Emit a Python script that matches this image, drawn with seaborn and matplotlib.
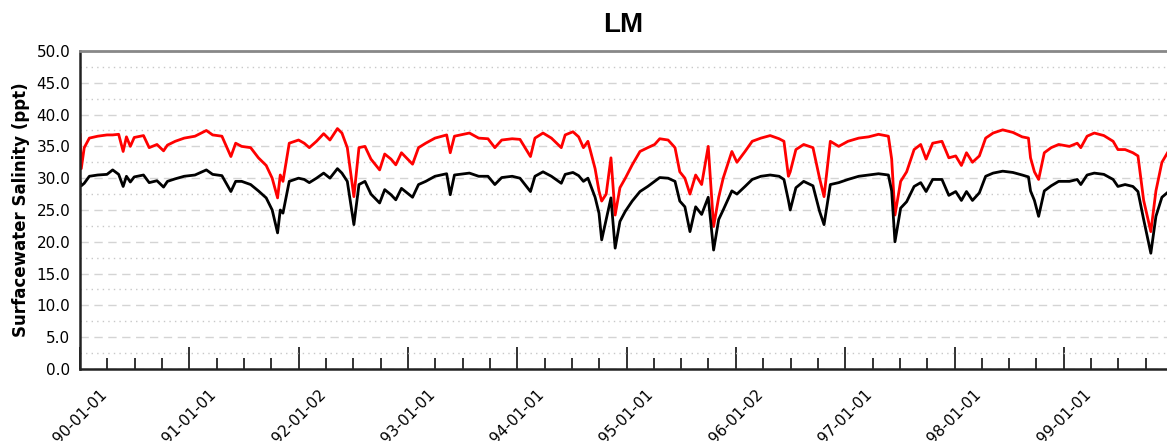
import matplotlib
matplotlib.use("Agg")
import matplotlib.dates as mdates
import matplotlib.pyplot as plt
import pandas as pd
import seaborn as sns
from matplotlib.ticker import FixedLocator, MultipleLocator

# values (ppt)
dates = [
    "1990-01-01", "1990-01-05", "1990-01-15", "1990-02-01", "1990-03-01", "1990-04-01",
    "1990-04-20", "1990-05-10", "1990-05-25", "1990-06-05", "1990-06-18", "1990-07-01",
    "1990-08-01", "1990-08-20", "1990-09-15", "1990-10-07", "1990-10-20", "1990-11-15",
    "1990-12-15", "1991-01-20", "1991-02-27", "1991-03-20", "1991-04-20", "1991-05-20",
    "1991-06-05", "1991-06-25", "1991-07-25", "1991-08-20", "1991-09-15", "1991-10-05",
    "1991-10-23", "1991-11-01", "1991-11-10", "1991-12-01", "1992-01-01",
    "1992-01-20", "1992-02-06", "1992-03-01", "1992-03-25", "1992-04-15", "1992-05-10",
    "1992-05-25", "1992-06-12", "1992-07-04", "1992-07-21", "1992-08-10", "1992-08-30",
    "1992-09-28", "1992-10-15", "1992-11-05", "1992-11-21", "1992-12-10", "1993-01-16",
    "1993-02-05", "1993-03-01", "1993-04-01", "1993-05-10", "1993-05-22", "1993-06-05",
    "1993-07-25", "1993-08-25", "1993-09-25", "1993-10-18", "1993-11-10", "1993-12-15",
    "1994-01-10", "1994-02-14", "1994-03-01", "1994-03-28", "1994-04-25", "1994-05-28",
    "1994-06-10", "1994-07-06", "1994-07-25", "1994-08-10", "1994-08-25", "1994-09-18",
    "1994-10-01", "1994-10-10", "1994-10-25", "1994-11-10", "1994-11-24", "1994-12-10",
    "1994-12-28", "1995-01-20", "1995-02-15", "1995-03-13", "1995-04-05", "1995-04-22",
    "1995-05-20", "1995-06-12", "1995-06-28", "1995-07-15", "1995-08-01", "1995-08-20",
    "1995-09-09", "1995-10-01", "1995-10-19", "1995-11-05", "1995-11-20", "1995-12-19",
    "1996-01-05", "1996-02-01", "1996-02-25", "1996-03-25", "1996-04-25", "1996-05-25",
    "1996-06-10", "1996-06-25", "1996-07-01", "1996-07-20", "1996-08-15", "1996-09-15",
    "1996-10-07", "1996-10-22", "1996-11-12", "1996-12-10", "1997-01-10", "1997-02-15",
    "1997-03-20", "1997-04-22", "1997-05-25", "1997-06-05", "1997-06-16", "1997-07-05",
    "1997-07-25", "1997-08-19", "1997-09-10", "1997-09-28", "1997-10-20", "1997-11-20",
    "1997-12-13",
    "1998-01-05", "1998-01-24", "1998-02-10", "1998-03-02", "1998-03-25", "1998-04-15",
    "1998-05-10", "1998-06-11", "1998-07-15", "1998-08-15", "1998-09-05", "1998-09-12",
    "1998-09-25", "1998-10-09", "1998-10-28", "1998-11-20", "1998-12-15", "1999-01-20",
    "1999-02-15", "1999-02-27", "1999-03-20", "1999-04-13", "1999-05-15", "1999-06-15",
    "1999-07-01", "1999-07-25", "1999-08-20", "1999-09-06", "1999-09-25", "1999-10-19",
    "1999-11-05", "1999-11-25", "1999-12-20",
]

red_vals = [
    37.0, 31.5, 34.8, 36.3, 36.6, 36.8, 36.8, 36.9, 34.2, 36.5, 35.0, 36.4,
    36.7, 34.8, 35.3, 34.3, 35.2, 35.8, 36.3, 36.6, 37.5, 36.8, 36.6, 33.4,
    35.5, 35.0, 34.8, 33.2, 32.0, 30.0, 26.9, 30.5, 29.5, 35.5, 36.0,
    35.5, 34.8, 35.8, 37.0, 36.0, 37.8, 37.1, 34.8, 27.1, 34.8, 35.0, 33.0,
    31.3, 33.8, 33.0, 32.1, 34.0, 32.2, 34.8, 35.5, 36.3, 36.8, 34.0, 36.6,
    37.1, 36.3, 36.2, 34.8, 36.0, 36.2,
    36.1, 33.4, 36.3, 37.1, 36.3, 34.8, 36.8, 37.3, 36.5, 34.8, 35.8, 31.5,
    28.0, 26.4, 27.5, 33.2, 24.2, 28.5, 30.0, 32.1, 34.2, 34.8, 35.3, 36.2,
    36.0, 34.8, 31.0, 30.0, 27.5, 30.5, 29.0, 35.0, 22.4, 27.0, 30.0, 34.2,
    32.5, 34.2, 35.8, 36.3, 36.7, 36.2, 35.8, 30.3, 31.0, 34.5, 35.3, 34.8,
    30.0, 27.1, 35.8, 35.0, 35.8, 36.3, 36.5, 36.9, 36.6, 33.0, 24.2, 29.5,
    31.0, 34.5, 35.3, 33.0, 35.5, 35.8, 33.2,
    33.5, 32.0, 34.0, 32.5, 33.5, 36.3, 37.1, 37.6, 37.2, 36.5, 36.3, 33.2,
    31.0, 29.8, 34.0, 34.8, 35.3, 35.0, 35.5, 34.8, 36.6, 37.1, 36.7, 35.8,
    34.5, 34.5, 34.0, 33.5, 26.5, 21.6, 28.0, 32.5, 34.5,
]

black_vals = [
    29.5, 28.8, 29.2, 30.3, 30.5, 30.6, 31.3, 30.6, 28.7, 30.3, 29.4, 30.2,
    30.5, 29.3, 29.6, 28.6, 29.5, 29.9, 30.3, 30.5, 31.3, 30.6, 30.4, 27.9,
    29.5, 29.5, 29.0, 28.0, 26.9, 25.0, 21.4, 25.0, 24.5, 29.5, 30.0,
    29.8, 29.3, 30.0, 30.8, 30.0, 31.5, 30.8, 29.5, 22.7, 29.0, 29.5, 27.5,
    26.1, 28.2, 27.4, 26.6, 28.4, 27.0, 29.0, 29.5, 30.3, 30.7, 27.4, 30.5,
    30.8, 30.3, 30.3, 29.0, 30.1, 30.3,
    30.0, 27.9, 30.3, 31.0, 30.3, 29.2, 30.6, 30.9, 30.4, 29.5, 30.0, 27.0,
    24.5, 20.3, 23.5, 26.9, 19.0, 23.2, 24.8, 26.4, 27.9, 28.7, 29.5, 30.1,
    30.0, 29.5, 26.4, 25.5, 21.6, 25.5, 24.3, 27.0, 18.7, 23.5, 25.0, 28.0,
    27.5, 28.7, 29.8, 30.3, 30.5, 30.3, 29.8, 26.5, 25.0, 28.5, 29.5, 28.8,
    24.8, 22.7, 29.0, 29.3, 29.8, 30.3, 30.5, 30.7, 30.5, 28.0, 20.0, 25.3,
    26.3, 28.7, 29.3, 27.9, 29.8, 29.8, 27.3,
    27.9, 26.5, 27.9, 26.5, 27.7, 30.3, 30.8, 31.1, 30.9, 30.5, 30.2, 28.0,
    26.5, 24.0, 28.0, 28.8, 29.5, 29.5, 29.8, 29.0, 30.5, 30.8, 30.6, 29.8,
    28.7, 29.0, 28.7, 27.9, 23.5, 18.2, 24.0, 27.0, 28.0,
]

tick_labels = ["90-01-01", "91-01-01", "92-01-02", "93-01-01", "94-01-01",
               "95-01-01", "96-01-02", "97-01-01", "98-01-01", "99-01-01"]

sns.set_style("white")
plt.rcParams["font.family"] = ["DejaVu Sans"]
plt.rcParams["text.color"] = "black"
plt.rcParams["axes.labelcolor"] = "black"
plt.rcParams["xtick.color"] = "black"
plt.rcParams["ytick.color"] = "black"

df = pd.DataFrame({
    "date": pd.to_datetime(dates * 2),
    "salinity": red_vals + black_vals,
    "series": ["red"] * len(red_vals) + ["black"] * len(black_vals),
})

fig = plt.figure(figsize=(11.67, 4.41), dpi=100)
ax = fig.add_axes([0.0686, 0.1633, 0.9314, 0.7211])

sns.lineplot(data=df, x="date", y="salinity", hue="series",
             palette={"red": "#ff0000", "black": "#000000"},
             linewidth=2.0, legend=False, ax=ax)

# y axis
ax.set_ylim(0, 50)
ax.yaxis.set_major_locator(MultipleLocator(5))
ax.yaxis.set_minor_locator(MultipleLocator(2.5))
ax.yaxis.set_major_formatter(lambda v, p: f"{v:.1f}")
ax.tick_params(axis="y", which="both", length=0, pad=7, labelsize=11,
               labelcolor="black")
ax.grid(which="major", axis="y", linestyle=(0, (6, 4)), color="#d4d4d4", linewidth=1)
ax.grid(which="minor", axis="y", linestyle=(0, (1, 3)), color="#c8c8c8", linewidth=1)
ax.set_axisbelow(True)

# x axis, ticks every 365 days
major = pd.to_datetime(tick_labels, format="%y-%m-%d")
minor = [m + pd.Timedelta(days=365 * q / 4) for m in major for q in (1, 2, 3)]
ax.set_xlim(major[0], pd.Timestamp("1999-12-12"))
ax.xaxis.set_major_locator(FixedLocator(mdates.date2num(major)))
ax.xaxis.set_minor_locator(FixedLocator(mdates.date2num(minor)))
ax.set_xticklabels(tick_labels, rotation=45, ha="center", fontsize=11)
ax.tick_params(axis="x", which="major", direction="in", length=16, width=1.3,
               color="#222222", labelcolor="black", pad=13, bottom=True)
ax.tick_params(axis="x", which="minor", direction="in", length=8, width=1.3,
               color="#222222", bottom=True)

for side in ("left", "bottom"):
    ax.spines[side].set_color("#222222")
    ax.spines[side].set_linewidth(1.8)
ax.spines["top"].set_color("#888888")
ax.spines["top"].set_linewidth(2)
ax.spines["right"].set_visible(False)

ax.set_xlabel("")
ax.set_ylabel("Surfacewater Salinity (ppt)", fontsize=12, fontweight="bold",
              labelpad=5, color="black")
ax.set_title("LM", fontsize=20, fontweight="bold", pad=14, color="black",
             fontfamily=["Liberation Sans", "DejaVu Sans"])

fig.savefig("out.png", dpi=100)
